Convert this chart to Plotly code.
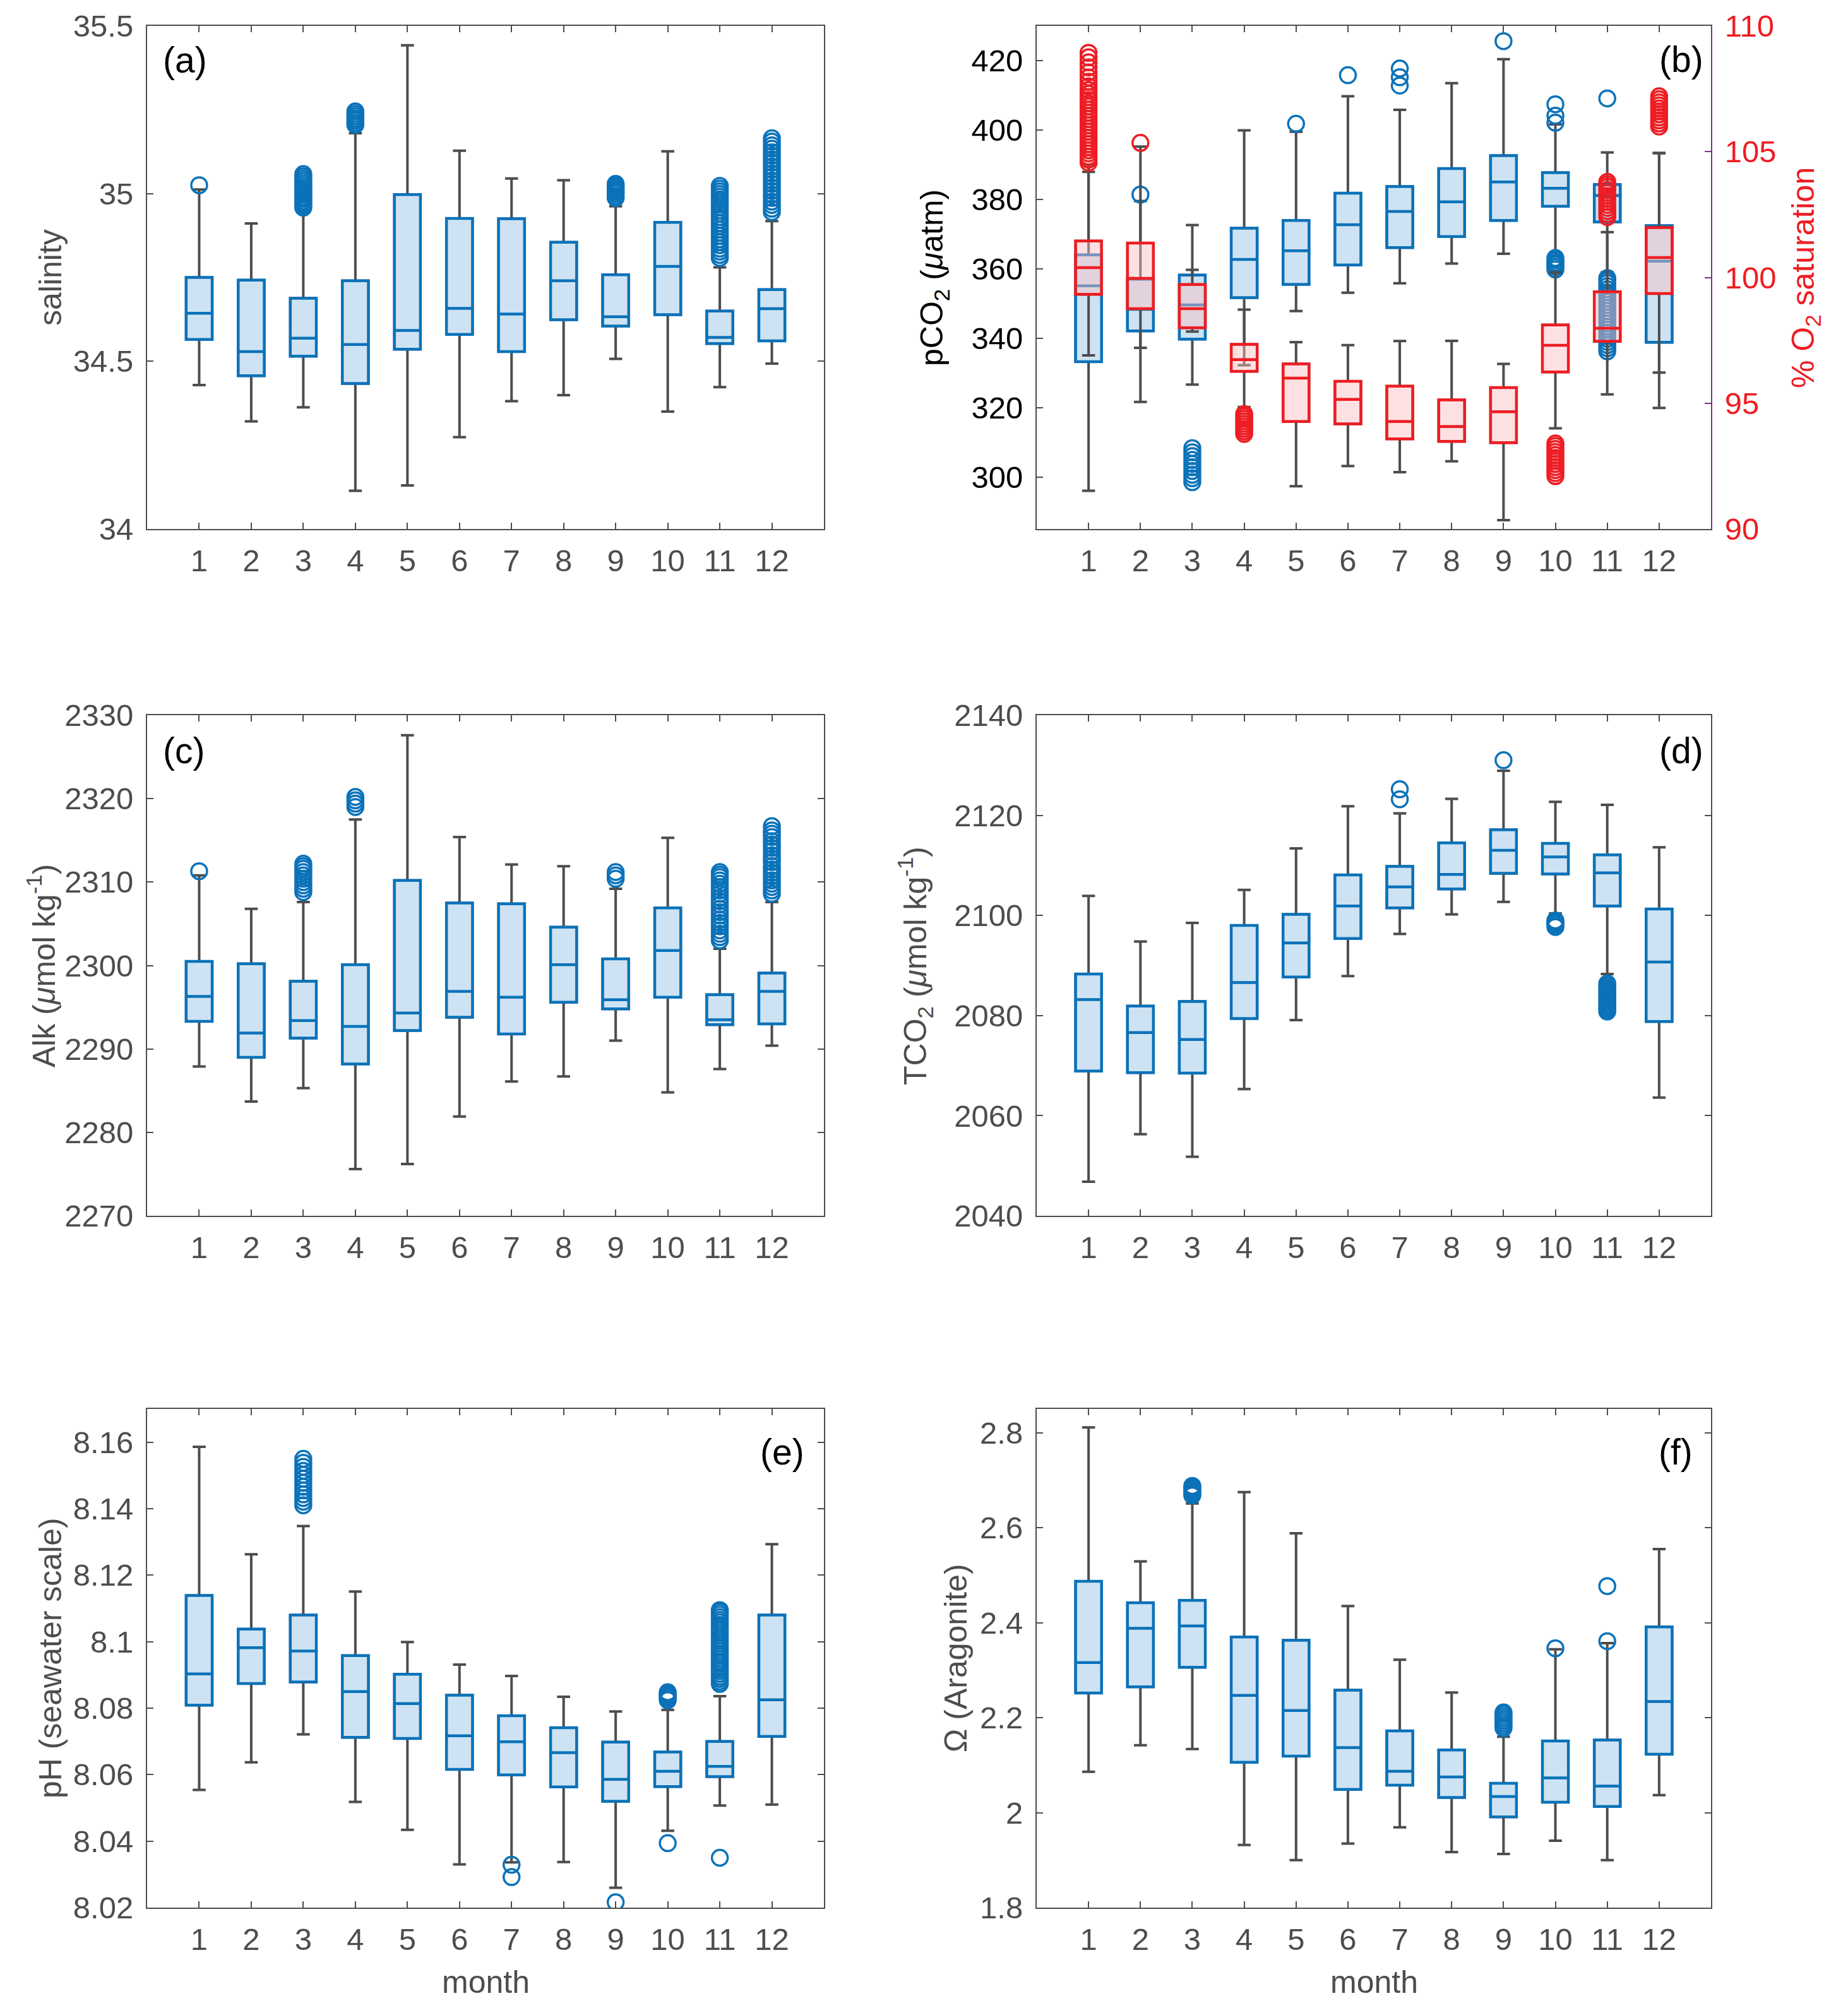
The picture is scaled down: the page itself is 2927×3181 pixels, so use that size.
import plotly.graph_objects as go

# page size and the default 8px body margin of the html page
PAGE_W, PAGE_H = 2927, 3181
OFF = 8
W, H = PAGE_W - 2 * OFF, PAGE_H - 2 * OFF
FONT = 'Liberation Sans'
GRAY = '#4d4d4d'
BLUE = '#0b72b9'
BLUE_FILL = '#cde3f3'
RED = '#ee1d23'
RED_FILL = 'rgba(250,190,192,0.46)'
PURPLE = '#7e2f8e'

months = list(range(1, 13))

# (a) salinity
sal_q1 = [34.565, 34.457, 34.515, 34.434, 34.536, 34.580, 34.529, 34.624, 34.605, 34.639, 34.553, 34.561]
sal_med = [34.643, 34.529, 34.569, 34.550, 34.592, 34.658, 34.641, 34.740, 34.633, 34.783, 34.571, 34.657]
sal_q3 = [34.750, 34.742, 34.688, 34.740, 34.997, 34.926, 34.925, 34.855, 34.758, 34.914, 34.650, 34.714]
sal_lo = [34.429, 34.321, 34.363, 34.114, 34.130, 34.274, 34.381, 34.399, 34.507, 34.350, 34.423, 34.493]
sal_hi = [35.012, 34.911, 34.945, 35.180, 35.442, 35.128, 35.045, 35.040, 34.962, 35.126, 34.780, 34.918]
sal_out = [
    [35.025],
    [],
    [34.958, 34.964, 34.971, 34.977, 34.984, 34.990, 34.997, 35.003, 35.010, 35.016, 35.023, 35.030, 35.037, 35.044, 35.051, 35.058],
    [35.205, 35.211, 35.218, 35.224, 35.231, 35.238, 35.245],
    [], [], [], [],
    [34.987, 34.993, 35.000, 35.006, 35.012, 35.018, 35.024, 35.029],
    [],
    [34.808, 34.817, 34.827, 34.836, 34.846, 34.855, 34.864, 34.874, 34.884, 34.893, 34.903, 34.912, 34.922,
     34.931, 34.941, 34.950, 34.959, 34.967, 34.975, 34.983, 34.991, 34.999, 35.007, 35.015, 35.023],
    [34.945, 34.955, 34.966, 34.976, 34.987, 34.997, 35.008, 35.018, 35.029, 35.039, 35.050, 35.060, 35.071,
     35.081, 35.092, 35.102, 35.113, 35.123, 35.134, 35.144, 35.155, 35.165],
]

# (b) pCO2 (left axis)
pco2_q1 = [333.2, 342.1, 339.7, 351.7, 355.5, 361.1, 366.1, 369.3, 373.9, 378.0, 373.5, 338.8]
pco2_med = [355.1, 348.3, 349.6, 362.7, 365.2, 372.7, 376.5, 379.3, 385.0, 383.2, 381.1, 362.2]
pco2_q3 = [364.0, 357.0, 358.2, 371.7, 373.9, 381.8, 383.7, 388.9, 392.6, 387.7, 384.3, 372.4]
pco2_lo = [296.0, 321.6, 326.6, 332.2, 347.8, 353.1, 355.8, 361.5, 364.3, 363.6, 359.0, 319.9]
pco2_hi = [390.0, 379.5, 372.6, 399.9, 399.5, 409.7, 405.8, 413.5, 420.4, 401.6, 393.5, 393.3]
pco2_out = [
    [],
    [381.4],
    [298.5, 299.6, 300.6, 301.7, 302.8, 303.8, 304.9, 306.0, 307.1, 308.3],
    [],
    [401.8],
    [415.8],
    [412.8, 415.2, 417.7],
    [],
    [425.6],
    [359.8, 360.5, 361.2, 361.8, 362.5, 363.1, 402.1, 404.1, 407.4],
    [336.2, 337.1, 338.0, 338.9, 339.8, 340.7, 341.6, 342.5, 343.3, 344.2, 345.1, 346.0, 346.9, 347.8,
     348.7, 349.6, 350.5, 351.4, 352.3, 353.2, 354.1, 355.0, 355.9, 356.6, 357.3, 409.1],
    [],
]

# (b) O2 saturation (right axis)
o2_q1 = [99.33, 98.76, 98.00, 96.27, 94.27, 94.18, 93.58, 93.48, 93.43, 96.24, 97.46, 99.36]
o2_med = [100.39, 99.96, 98.76, 96.73, 96.00, 95.15, 94.27, 94.07, 94.66, 97.30, 97.98, 100.79]
o2_q3 = [101.45, 101.37, 99.72, 97.34, 96.56, 95.87, 95.68, 95.13, 95.62, 98.11, 99.43, 101.98]
o2_lo = [96.90, 97.20, 97.85, 94.85, 91.70, 92.50, 92.26, 92.69, 90.35, 94.00, 95.35, 96.22]
o2_hi = [104.20, 105.20, 100.30, 98.72, 97.43, 97.31, 97.47, 97.48, 96.56, 100.20, 101.80, 104.95]
o2_out = [
    [104.56, 104.68, 104.80, 104.93, 105.05, 105.17, 105.30, 105.42, 105.55, 105.67, 105.80, 105.92, 106.05,
     106.17, 106.30, 106.42, 106.55, 106.67, 106.80, 106.92, 107.05, 107.17, 107.30, 107.45, 107.60,
     107.78, 107.95, 108.15, 108.35, 108.55, 108.75, 108.93],
    [105.35],
    [],
    [93.78, 93.88, 93.98, 94.08, 94.18, 94.28, 94.38, 94.47, 94.57],
    [], [], [], [], [],
    [92.10, 92.22, 92.34, 92.46, 92.58, 92.70, 92.82, 92.94, 93.06, 93.18, 93.30, 93.40],
    [102.40, 102.52, 102.64, 102.76, 102.88, 103.00, 103.12, 103.24, 103.36, 103.48, 103.60, 103.70, 103.80],
    [106.00, 106.12, 106.24, 106.36, 106.48, 106.60, 106.72, 106.84, 106.96, 107.08, 107.20],
]

# (c) alkalinity
alk_q1 = [2293.3, 2289.0, 2291.3, 2288.2, 2292.2, 2293.8, 2291.8, 2295.6, 2294.8, 2296.2, 2292.9, 2293.0]
alk_med = [2296.3, 2291.9, 2293.4, 2292.7, 2294.3, 2296.9, 2296.2, 2300.1, 2295.9, 2301.8, 2293.5, 2296.9]
alk_q3 = [2300.5, 2300.2, 2298.1, 2300.1, 2310.2, 2307.5, 2307.4, 2304.6, 2300.8, 2306.9, 2296.5, 2299.1]
alk_lo = [2287.9, 2283.7, 2285.3, 2275.6, 2276.2, 2281.9, 2286.1, 2286.7, 2291.0, 2284.8, 2287.6, 2290.4]
alk_hi = [2310.8, 2306.8, 2307.6, 2317.5, 2327.6, 2315.4, 2312.1, 2311.9, 2309.2, 2315.3, 2302.0, 2307.6]
alk_out = [
    [2311.3],
    [],
    [2308.8, 2309.2, 2309.6, 2310.0, 2310.4, 2310.8, 2311.2, 2311.6, 2311.9, 2312.2],
    [2319.0, 2319.4, 2319.8, 2320.2],
    [], [], [], [],
    [2310.4, 2310.8, 2311.2],
    [],
    [2303.0, 2303.4, 2303.8, 2304.2, 2304.7, 2305.1, 2305.5, 2306.0, 2306.4, 2306.8, 2307.3, 2307.7,
     2308.1, 2308.6, 2309.0, 2309.4, 2309.8, 2310.2, 2310.6, 2310.9, 2311.2],
    [2308.6, 2309.0, 2309.4, 2309.8, 2310.2, 2310.7, 2311.1, 2311.5, 2311.9, 2312.4, 2312.8, 2313.2,
     2313.7, 2314.1, 2314.5, 2314.9, 2315.4, 2315.8, 2316.2, 2316.7],
]

# (d) TCO2
tco2_q1 = [2068.9, 2068.6, 2068.5, 2079.4, 2087.7, 2095.4, 2101.5, 2105.3, 2108.4, 2108.3, 2101.9, 2078.8]
tco2_med = [2083.2, 2076.6, 2075.2, 2086.6, 2094.5, 2101.9, 2105.7, 2108.2, 2113.0, 2111.7, 2108.5, 2090.7]
tco2_q3 = [2088.3, 2081.9, 2082.8, 2098.0, 2100.2, 2108.1, 2109.8, 2114.5, 2117.1, 2114.4, 2112.1, 2101.3]
tco2_lo = [2046.8, 2056.3, 2051.8, 2065.3, 2079.1, 2087.9, 2096.3, 2100.2, 2102.7, 2100.4, 2088.3, 2063.6]
tco2_hi = [2103.9, 2094.8, 2098.5, 2105.1, 2113.4, 2121.8, 2120.4, 2123.3, 2128.9, 2122.7, 2122.1, 2113.6]
tco2_out = [
    [], [], [], [], [], [],
    [2123.2, 2125.2],
    [],
    [2131.0],
    [2097.7, 2098.1, 2098.5, 2098.8, 2099.0],
    [2080.8, 2081.2, 2081.6, 2082.0, 2082.4, 2082.8, 2083.2, 2083.6, 2084.0, 2084.4, 2084.8, 2085.2,
     2085.6, 2086.0, 2086.4],
    [],
]

# (e) pH
ph_q1 = [8.0809, 8.0874, 8.0879, 8.0712, 8.0709, 8.0616, 8.0599, 8.0563, 8.0520, 8.0564, 8.0594, 8.0715]
ph_med = [8.0903, 8.0982, 8.0972, 8.0850, 8.0814, 8.0717, 8.0699, 8.0666, 8.0586, 8.0610, 8.0625, 8.0825]
ph_q3 = [8.1139, 8.1038, 8.1080, 8.0958, 8.0902, 8.0839, 8.0777, 8.0741, 8.0698, 8.0668, 8.0700, 8.1080]
ph_lo = [8.0554, 8.0637, 8.0721, 8.0518, 8.0434, 8.0330, 8.0336, 8.0337, 8.0260, 8.0431, 8.0507, 8.0510]
ph_hi = [8.1586, 8.1263, 8.1348, 8.1151, 8.0999, 8.0931, 8.0897, 8.0834, 8.0790, 8.0795, 8.0836, 8.1293]
ph_out = [
    [], [],
    [8.1410, 8.1421, 8.1432, 8.1443, 8.1455, 8.1466, 8.1478, 8.1490, 8.1502, 8.1514, 8.1526, 8.1538, 8.1550],
    [], [], [],
    [8.0329, 8.0292],
    [],
    [8.0216],
    [8.0824, 8.0830, 8.0836, 8.0842, 8.0848, 8.0394],
    [8.0873, 8.0880, 8.0888, 8.0895, 8.0903, 8.0911, 8.0918, 8.0926, 8.0934, 8.0941, 8.0949, 8.0957, 8.0964,
     8.0972, 8.0980, 8.0987, 8.0995, 8.1003, 8.1010, 8.1018, 8.1026, 8.1034, 8.1042, 8.1050, 8.1058,
     8.1066, 8.1074, 8.1082, 8.1089, 8.1095, 8.0350],
    [],
]

# (f) aragonite saturation
om_q1 = [2.252, 2.265, 2.306, 2.106, 2.119, 2.049, 2.058, 2.032, 1.991, 2.022, 2.013, 2.123]
om_med = [2.316, 2.388, 2.393, 2.247, 2.215, 2.137, 2.087, 2.075, 2.034, 2.073, 2.056, 2.234]
om_q3 = [2.487, 2.442, 2.447, 2.370, 2.363, 2.258, 2.172, 2.132, 2.062, 2.151, 2.153, 2.391]
om_lo = [2.086, 2.142, 2.134, 1.932, 1.900, 1.935, 1.969, 1.917, 1.913, 1.941, 1.900, 2.037]
om_hi = [2.811, 2.529, 2.651, 2.675, 2.588, 2.435, 2.322, 2.253, 2.160, 2.344, 2.357, 2.555]
om_out = [
    [], [],
    [2.668, 2.672, 2.676, 2.680, 2.684, 2.688],
    [], [], [], [], [],
    [2.178, 2.183, 2.188, 2.193, 2.198, 2.203, 2.208, 2.211],
    [2.346],
    [2.361, 2.477],
    [],
]


def add_boxes(fig, xa, ya, q1, med, q3, lo, hi, out, color, fill):
    # gray whiskers first, then the coloured box on top
    fig.add_trace(go.Box(x=months, q1=q1, median=med, q3=q3, lowerfence=lo, upperfence=hi,
                         orientation='v', xaxis=xa, yaxis=ya, width=0.5, whiskerwidth=0.5,
                         boxpoints=False, line=dict(color=GRAY, width=4),
                         fillcolor='rgba(0,0,0,0)', hoverinfo='skip', showlegend=False))
    fig.add_trace(go.Box(x=months, q1=q1, median=med, q3=q3, lowerfence=q1, upperfence=q3,
                         orientation='v', xaxis=xa, yaxis=ya, width=0.5, whiskerwidth=0,
                         boxpoints=False, line=dict(color=color, width=4.5),
                         fillcolor=fill, hoverinfo='skip', showlegend=False))
    xs, ys = [], []
    for m, vals in zip(months, out):
        xs += [m] * len(vals)
        ys += vals
    fig.add_trace(go.Scatter(x=xs, y=ys, mode='markers', xaxis=xa, yaxis=ya,
                             marker=dict(symbol='circle-open', size=25, color=color,
                                         line=dict(width=3.5)),
                             hoverinfo='skip', showlegend=False))


fig = go.Figure()
add_boxes(fig, 'x', 'y', sal_q1, sal_med, sal_q3, sal_lo, sal_hi, sal_out, BLUE, BLUE_FILL)
add_boxes(fig, 'x2', 'y2', pco2_q1, pco2_med, pco2_q3, pco2_lo, pco2_hi, pco2_out, BLUE, BLUE_FILL)
add_boxes(fig, 'x2', 'y3', o2_q1, o2_med, o2_q3, o2_lo, o2_hi, o2_out, RED, RED_FILL)
add_boxes(fig, 'x3', 'y4', alk_q1, alk_med, alk_q3, alk_lo, alk_hi, alk_out, BLUE, BLUE_FILL)
add_boxes(fig, 'x4', 'y5', tco2_q1, tco2_med, tco2_q3, tco2_lo, tco2_hi, tco2_out, BLUE, BLUE_FILL)
add_boxes(fig, 'x5', 'y6', ph_q1, ph_med, ph_q3, ph_lo, ph_hi, ph_out, BLUE, BLUE_FILL)
add_boxes(fig, 'x6', 'y7', om_q1, om_med, om_q3, om_lo, om_hi, om_out, BLUE, BLUE_FILL)


# page pixel -> paper fraction
def px(x):
    return (x - OFF) / W


def py(y):
    return 1 - (y - OFF) / H


col_l = [px(233), px(1305)]
col_r = [px(1642), px(2710)]
row1 = [py(838), py(41)]
row2 = [py(1926), py(1133)]
row3 = [py(3022), py(2232)]


def xax(domain, anchor):
    return dict(domain=domain, anchor=anchor, range=[0, 13], tickvals=months,
                ticks='inside', ticklen=10, tickwidth=2, tickcolor=GRAY,
                showline=True, linecolor=GRAY, linewidth=2, mirror='ticks',
                showgrid=False, zeroline=False, automargin=False, ticklabelstandoff=6,
                tickfont=dict(family=FONT, size=49, color=GRAY))


def yax(domain, anchor, rng, vals, text, color=GRAY, mirror='ticks'):
    return dict(domain=domain, anchor=anchor, range=rng, tickvals=vals, ticktext=text,
                ticks='inside', ticklen=10, tickwidth=2, tickcolor=GRAY,
                showline=True, linecolor=GRAY, linewidth=2, mirror=mirror,
                showgrid=False, zeroline=False, automargin=False, ticklabelstandoff=10,
                tickfont=dict(family=FONT, size=49, color=color))


fig.update_layout(
    width=W, height=H, margin=dict(l=0, r=0, t=0, b=0, pad=0),
    paper_bgcolor='white', plot_bgcolor='white', boxmode='overlay', showlegend=False,
    font=dict(family=FONT, color=GRAY),
    xaxis=xax(col_l, 'y'),
    xaxis2=xax(col_r, 'y2'),
    xaxis3=xax(col_l, 'y4'),
    xaxis4=xax(col_r, 'y5'),
    xaxis5=xax(col_l, 'y6'),
    xaxis6=xax(col_r, 'y7'),
    yaxis=yax(row1, 'x', [34, 35.5], [34, 34.5, 35, 35.5], ['34', '34.5', '35', '35.5']),
    yaxis2=yax(row1, 'x2', [285, 430], [300, 320, 340, 360, 380, 400, 420],
               ['300', '320', '340', '360', '380', '400', '420'], color='black', mirror=False),
    yaxis3=dict(domain=row1, anchor='x2', overlaying='y2', side='right', range=[90, 110],
                tickvals=[90, 95, 100, 105, 110], ticktext=['90', '95', '100', '105', '110'],
                ticks='inside', ticklen=10, tickwidth=2, tickcolor=PURPLE,
                showline=True, linecolor=PURPLE, linewidth=2, showgrid=False, zeroline=False,
                automargin=False, ticklabelstandoff=10,
                tickfont=dict(family=FONT, size=49, color=RED)),
    yaxis4=yax(row2, 'x3', [2270, 2330], [2270, 2280, 2290, 2300, 2310, 2320, 2330],
               ['2270', '2280', '2290', '2300', '2310', '2320', '2330']),
    yaxis5=yax(row2, 'x4', [2040, 2140], [2040, 2060, 2080, 2100, 2120, 2140],
               ['2040', '2060', '2080', '2100', '2120', '2140']),
    yaxis6=yax(row3, 'x5', [8.02, 8.17], [8.02, 8.04, 8.06, 8.08, 8.10, 8.12, 8.14, 8.16],
               ['8.02', '8.04', '8.06', '8.08', '8.1', '8.12', '8.14', '8.16']),
    yaxis7=yax(row3, 'x6', [1.8, 2.85], [1.8, 2.0, 2.2, 2.4, 2.6, 2.8],
               ['1.8', '2', '2.2', '2.4', '2.6', '2.8']),
)

# axis titles
titles = [
    ('salinity', 80, 440, GRAY, -90),
    ('pCO<sub>2</sub> (<i>μ</i>atm)', 1480, 440, 'black', -90),
    ('% O<sub>2</sub> saturation', 2860, 440, RED, -90),
    ('Alk (<i>μ</i>mol kg<sup>-1</sup>)', 66, 1530, GRAY, -90),
    ('TCO<sub>2</sub> (<i>μ</i>mol kg<sup>-1</sup>)', 1450, 1530, GRAY, -90),
    ('pH (seawater scale)', 80, 2627, GRAY, -90),
    ('Ω (Aragonite)', 1514, 2627, GRAY, -90),
    ('month', 769, 3140, GRAY, 0),
    ('month', 2176, 3140, GRAY, 0),
]
for text, x, y, c, ang in titles:
    fig.add_annotation(text=text, x=px(x), y=py(y), xref='paper', yref='paper',
                       xanchor='center', yanchor='middle', textangle=ang, showarrow=False,
                       font=dict(family=FONT, size=50, color=c))

# panel letters
letters = [
    ('(a)', 256, 95, 'left'),
    ('(b)', 2700, 94, 'right'),
    ('(c)', 256, 1189, 'left'),
    ('(d)', 2700, 1189, 'right'),
    ('(e)', 1276, 2300, 'right'),
    ('(f)', 2683, 2300, 'right'),
]
for text, x, y, anchor in letters:
    fig.add_annotation(text=text, x=px(x), y=py(y), xref='paper', yref='paper',
                       xanchor=anchor, yanchor='middle', showarrow=False,
                       font=dict(family=FONT, size=57, color='black'))

fig.write_html("out.html")
